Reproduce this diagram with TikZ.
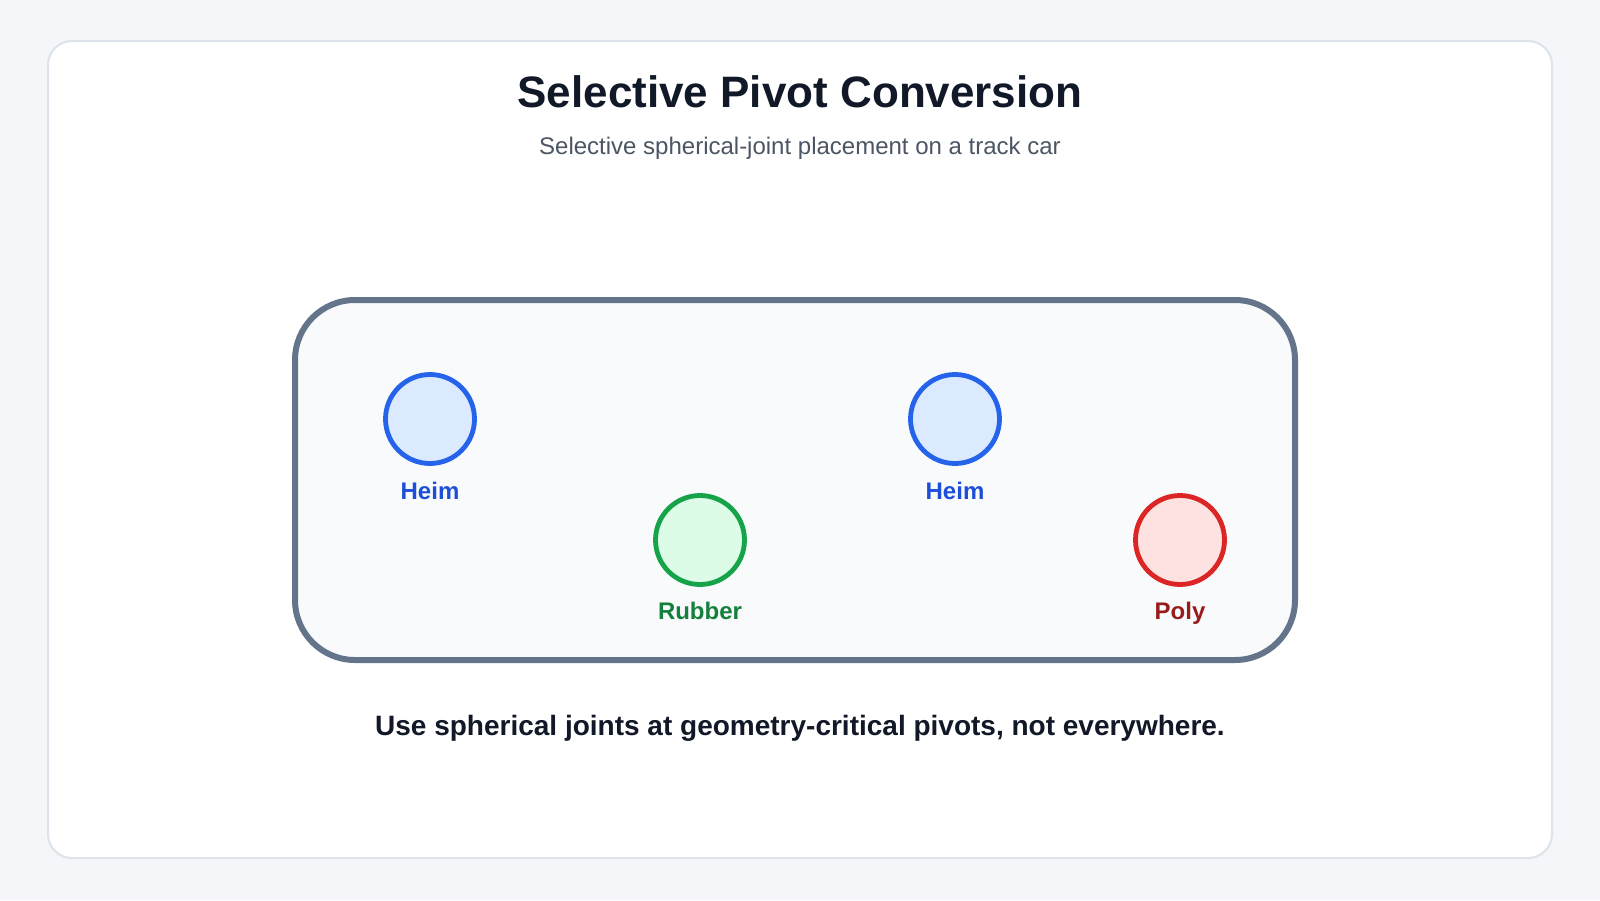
\documentclass[tikz,border=0pt]{standalone}
\usepackage{fontspec}
\setmainfont{Liberation Sans}
\definecolor{pagebg}{HTML}{F4F6FA}
\definecolor{cardline}{HTML}{DDE3EA}
\definecolor{titlecol}{HTML}{111827}
\definecolor{subcol}{HTML}{4B5563}
\definecolor{carline}{HTML}{64748B}
\definecolor{carfill}{HTML}{F8FAFC}
\definecolor{heimline}{HTML}{2563EB}
\definecolor{heimfill}{HTML}{DBEAFE}
\definecolor{heimtext}{HTML}{1D4ED8}
\definecolor{rubberline}{HTML}{16A34A}
\definecolor{rubberfill}{HTML}{DCFCE7}
\definecolor{rubbertext}{HTML}{15803D}
\definecolor{polyline}{HTML}{DC2626}
\definecolor{polyfill}{HTML}{FEE2E2}
\definecolor{polytext}{HTML}{991B1B}
\tikzset{
  joint/.style={circle,minimum size=89*0.75pt,inner sep=0pt,line width=3.6pt},
  jointlabel/.style={anchor=base,font=\fontsize{18}{20}\selectfont\bfseries},
}
\begin{document}
\begin{tikzpicture}[x=0.75pt,y=-0.75pt]
        % draw the page and the card
        \fill[pagebg] (0,0) rectangle (1600,900);
        \draw[cardline,fill=white,line width=1.5pt,rounded corners=18pt] (48,41) rectangle (1552,858);
        % draw the titles
        \node[anchor=base,text=titlecol,font=\fontsize{33}{36}\selectfont\bfseries] (title) at (800,107) {Selective Pivot Conversion};
        \node[anchor=base,text=subcol,font=\fontsize{18}{22}\selectfont] (subtitle) at (800,154) {Selective spherical-joint placement on a track car};
        % draw the car
        \draw[carline,fill=carfill,line width=4.5pt,rounded corners=45pt] (295,300) rectangle (1295,660);
        % draw the joints
        \node[joint,draw=heimline,fill=heimfill] (heimA) at (430,419) {};
        \node[joint,draw=rubberline,fill=rubberfill] (rubber) at (700,540) {};
        \node[joint,draw=heimline,fill=heimfill] (heimB) at (955,419) {};
        \node[joint,draw=polyline,fill=polyfill] (poly) at (1180,540) {};
        % draw the joint labels
        \node[jointlabel,text=heimtext] (heimAlabel) at (430,499) {Heim};
        \node[jointlabel,text=rubbertext] (rubberlabel) at (700,619) {Rubber};
        \node[jointlabel,text=heimtext] (heimBlabel) at (955,499) {Heim};
        \node[jointlabel,text=polytext] (polylabel) at (1180,619) {Poly};
        % draw the note
        \node[anchor=base,text=titlecol,font=\fontsize{21}{24}\selectfont\bfseries] (note) at (800,735) {Use spherical joints at geometry-critical pivots, not everywhere.};
\end{tikzpicture}
\end{document}
